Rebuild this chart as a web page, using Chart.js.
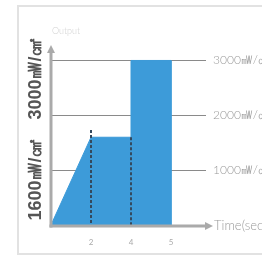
<!DOCTYPE html>
<html>
<head>
<meta charset="utf-8">
<script src="https://cdn.jsdelivr.net/npm/chart.js@4"></script>
<style>
    html, body { margin: 0; padding: 0; background: #fff; overflow: hidden; }
    #wrap { position: relative; width: 262px; height: 256px; overflow: hidden; }
    #frame { position: absolute; left: 17px; top: 5px; width: 320px; height: 246px; border: 2px solid #e2e2e2; }
    #chart { position: absolute; left: 0; top: 0; }
    .side-label {
        position: absolute; left: 35px; width: 120px; text-align: center;
        font: bold 18px "Liberation Sans", Arial, sans-serif; color: #555;
        transform: translate(-50%, -50%) rotate(-90deg); white-space: nowrap;
    }
</style>
</head>
<body>
<div id="wrap">
    <div id="frame"></div>
    <canvas id="chart" width="262" height="256"></canvas>
    <div class="side-label" style="top: 79px;">3000㎽/㎠</div>
    <div class="side-label" style="top: 180px;">1600㎽/㎠</div>
</div>
<script>
// time ticks (sec) in the order they sit on the axis; spacing on the picture is even
const timeTicks = [0, 2, 4, 5];
// output profile: time (sec) and output (mW/cm2)
const profileTimes = [0, 2, 4, 4, 5, 5];
const profileOutput = [0, 1600, 1600, 3000, 3000, 0];
// dashed guides
const guideTimes = [2, 4];
const guideTops = [1730, 1600];
const outputTicks = [1000, 2000, 3000];

const BLUE = '#3d9bd9';
const slot = t => timeTicks.indexOf(t);

const datasets = [{
    data: profileTimes.map((t, i) => ({ x: slot(t), y: profileOutput[i] })),
    fill: 'origin',
    backgroundColor: BLUE,
    borderColor: BLUE,
    borderWidth: 1,
    pointRadius: 0,
    tension: 0,
    order: 2
}];
guideTimes.forEach((t, i) => {
    datasets.push({
        data: [{ x: slot(t), y: guideTops[i] }, { x: slot(t), y: 0 }],
        fill: false,
        borderColor: '#34495e',
        borderWidth: 2,
        borderDash: [3, 2],
        pointRadius: 0,
        order: 1
    });
});

const axesPlugin = {
    id: 'axes',
    afterDatasetsDraw(chart) {
        const { ctx, chartArea: a } = chart;
        const x0 = a.left, y0 = a.bottom + 1;
        ctx.save();
        ctx.strokeStyle = '#aaa';
        ctx.fillStyle = '#aaa';
        ctx.lineWidth = 3;
        // y axis + arrow
        ctx.beginPath();
        ctx.moveTo(x0, y0 + 1.5);
        ctx.lineTo(x0, 51);
        ctx.stroke();
        ctx.beginPath();
        ctx.moveTo(x0, 45);
        ctx.lineTo(x0 - 4, 53);
        ctx.lineTo(x0 + 4, 53);
        ctx.closePath();
        ctx.fill();
        // x axis + arrow
        ctx.beginPath();
        ctx.moveTo(x0 - 1.5, y0);
        ctx.lineTo(207, y0);
        ctx.stroke();
        ctx.beginPath();
        ctx.moveTo(213, y0);
        ctx.lineTo(205, y0 - 4);
        ctx.lineTo(205, y0 + 4);
        ctx.closePath();
        ctx.fill();

        ctx.textBaseline = 'middle';
        ctx.textAlign = 'left';
        ctx.fillStyle = '#d2d2d2';
        ctx.font = '300 9px Lato, "Open Sans", sans-serif';
        ctx.fillText('Output', 52, 31);
        ctx.fillStyle = '#9a9a9a';
        ctx.font = '300 13px Lato, "Open Sans", sans-serif';
        ctx.fillText('Time(sec)', 214, y0);
        ctx.restore();
    }
};

new Chart(document.getElementById('chart'), {
    type: 'line',
    data: { datasets },
    options: {
        responsive: false,
        animation: false,
        layout: { padding: { left: 51, top: 44, right: 0, bottom: 0 } },
        plugins: { legend: { display: false }, tooltip: { enabled: false } },
        scales: {
            x: {
                type: 'linear',
                min: 0,
                max: 3.875,
                afterBuildTicks: s => { s.ticks = timeTicks.slice(1).map(t => ({ value: slot(t) })); },
                afterFit: s => { s.height = 31; },
                grid: { display: false },
                border: { display: false },
                ticks: {
                    padding: 5,
                    color: '#aaa',
                    font: { size: 8, family: 'Lato, "Open Sans", sans-serif' },
                    callback: v => String(timeTicks[v])
                }
            },
            y: {
                position: 'right',
                min: 0,
                max: 3300,
                afterBuildTicks: s => { s.ticks = outputTicks.map(v => ({ value: v })); },
                afterFit: s => { s.width = 56; },
                grid: { color: '#8a8a8a', lineWidth: 1, drawTicks: false },
                border: { display: false },
                ticks: {
                    padding: 7,
                    color: '#9a9a9a',
                    font: { size: 12, weight: '300', family: 'Lato, "Open Sans", sans-serif' },
                    callback: v => v + '㎽/㎠'
                }
            }
        }
    },
    plugins: [axesPlugin]
});
</script>
</body>
</html>
